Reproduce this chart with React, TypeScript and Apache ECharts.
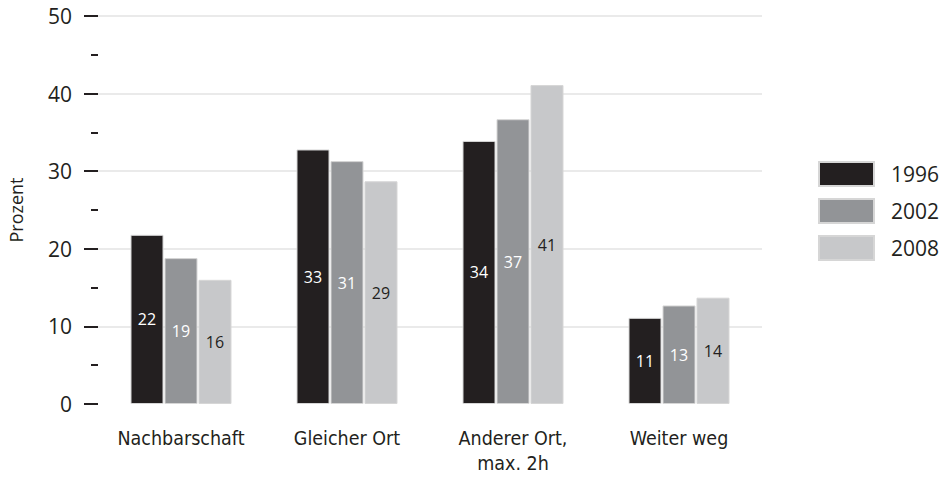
import React, { useEffect, useRef } from "react";
import * as echarts from "echarts";

const categories = ["Nachbarschaft", "Gleicher Ort", "Anderer Ort,\nmax. 2h", "Weiter weg"];
const years = ["1996", "2002", "2008"];
const values1996 = [21.8, 32.8, 33.9, 11.1];
const values2002 = [18.8, 31.3, 36.7, 12.7];
const values2008 = [16.0, 28.7, 41.1, 13.7];
const labels1996 = [22, 33, 34, 11];
const labels2002 = [19, 31, 37, 13];
const labels2008 = [16, 29, 41, 14];
const yTicks = [0, 10, 20, 30, 40, 50];

const colors = ["#231f20", "#929497", "#c7c8ca"];
const labelColors = ["#ffffff", "#ffffff", "#231f20"];
const FONT = "'Open Sans', 'DejaVu Sans', sans-serif";
const NARROW = "'DejaVu Sans Condensed', 'Liberation Sans', sans-serif";

export default function App() {
  const ref = useRef<HTMLDivElement>(null);
  useEffect(() => {
    if (!ref.current) return;
    const chart = echarts.init(ref.current, undefined, { renderer: "svg" });
    const seriesData = [values1996, values2002, values2008];
    const seriesLabels = [labels1996, labels2002, labels2008];
    chart.setOption({
      animation: false,
      grid: { left: 98, right: 189, top: 16, bottom: 76, containLabel: false, outerBoundsMode: "none" },
      legend: {
        orient: "vertical",
        left: 818,
        top: 161,
        padding: 0,
        itemWidth: 55,
        itemHeight: 24,
        itemGap: 11,
        icon: "rect",
        textStyle: { fontFamily: FONT, fontSize: 21, color: "#231f20", padding: [0, 0, 0, 12] },
        data: years,
      },
      xAxis: {
        type: "category",
        data: categories,
        axisLine: { show: false },
        axisTick: { show: false },
        axisLabel: {
          fontFamily: NARROW,
          fontSize: 19.5,
          color: "#231f20",
          margin: 22,
          lineHeight: 25,
          interval: 0,
        },
      },
      yAxis: {
        type: "value",
        min: yTicks[0],
        max: yTicks[yTicks.length - 1],
        interval: 10,
        name: "Prozent",
        nameLocation: "middle",
        nameGap: 73,
        nameTextStyle: { fontFamily: FONT, fontSize: 18, color: "#231f20" },
        axisLine: { show: false },
        axisTick: { show: true, length: 14, lineStyle: { color: "#231f20", width: 2 } },
        minorTick: { show: true, splitNumber: 2, length: 7, lineStyle: { color: "#231f20", width: 2 } },
        axisLabel: { fontFamily: FONT, fontSize: 21, color: "#231f20", margin: 26 },
        splitLine: {
          show: true,
          lineStyle: { color: ["rgba(0,0,0,0)", "#e3e3e3", "#e3e3e3", "#e3e3e3", "#e3e3e3", "#e3e3e3"], width: 1.5 },
        },
      },
      series: years.map((y, i) => ({
        name: y,
        type: "bar",
        barWidth: 33,
        barGap: "3%",
        data: seriesData[i],
        itemStyle: { color: colors[i], borderColor: "#d6d6d6", borderWidth: 1 },
        label: {
          show: true,
          position: "inside",
          fontFamily: FONT,
          fontSize: 16,
          color: labelColors[i],
          formatter: (p: any) => String(seriesLabels[i][p.dataIndex]),
        },
      })),
    });
    return () => chart.dispose();
  }, []);
  return <div ref={ref} style={{ width: 951, height: 480, position: "absolute", left: 0, top: 0 }} />;
}
